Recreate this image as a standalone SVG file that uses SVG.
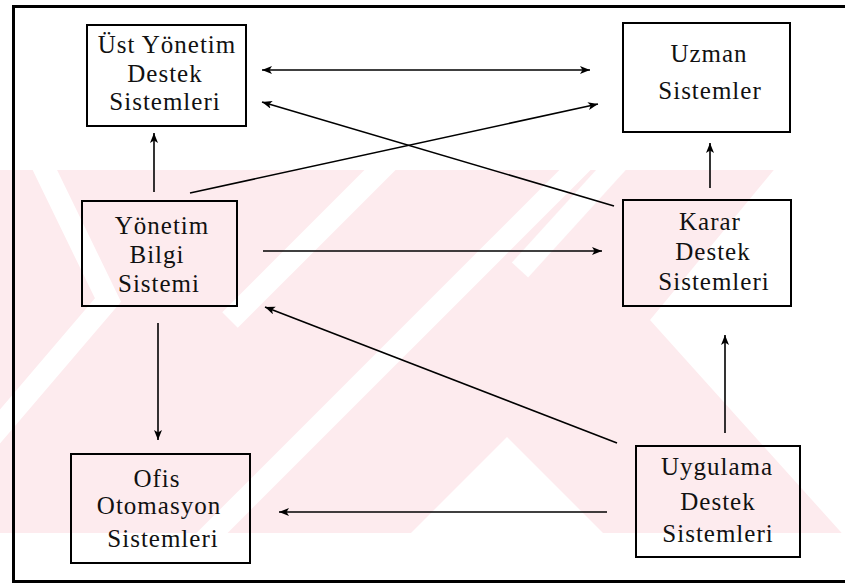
<svg xmlns="http://www.w3.org/2000/svg" width="845" height="588" viewBox="0 0 845 588">
  <defs>
    <marker id="ah" markerUnits="userSpaceOnUse" markerWidth="12" markerHeight="10" refX="10" refY="4" orient="auto-start-reverse">
      <path d="M0,0 L10,4 L0,8 L2.5,4 z" fill="#000"/>
    </marker>
    <clipPath id="band"><rect x="0" y="170" width="845" height="363"/></clipPath>
  </defs>
  <style>
    .box { fill: none; stroke: #000; stroke-width: 2; }
    .lbl { font-family: "Liberation Serif", "Times New Roman", serif; font-size: 25px; letter-spacing: 1px; fill: #111; text-anchor: middle; }
    .c { fill: none; stroke: #000; stroke-width: 1.6; }
    .wm { stroke: #fff; stroke-width: 22; fill: none; }
  </style>
  <rect width="845" height="588" fill="#fff"/>
  <g id="watermark">
    <rect x="0" y="170" width="845" height="363" fill="#fdebee"/>
    <g clip-path="url(#band)">
      <g class="wm">
        <polyline points="40,160 108,300 -20,450"/>
        <line x1="200" y1="545" x2="590" y2="155"/>
        <line x1="230" y1="320" x2="395" y2="155"/>
        <line x1="620" y1="160" x2="520" y2="270"/>
      </g>
      <polygon points="507,437 404,540 610,540" fill="#fff"/>
      <polygon points="650,320 782,160 860,160 860,540 848,540" fill="#fff"/>
    </g>
  </g>
  <g id="frame">
    <line x1="13.5" y1="5" x2="13.5" y2="583" stroke="#000" stroke-width="3"/>
    <line x1="12" y1="6.5" x2="845" y2="6.5" stroke="#000" stroke-width="3"/>
    <line x1="12" y1="581.5" x2="845" y2="581.5" stroke="#000" stroke-width="3"/>
  </g>
  <g id="ust-yonetim">
    <rect class="box" x="87" y="25" width="159" height="101"/>
    <text class="lbl" x="167" y="53">Üst Yönetim</text>
    <text class="lbl" x="165" y="82">Destek</text>
    <text class="lbl" x="165" y="110">Sistemleri</text>
  </g>
  <g id="uzman">
    <rect class="box" x="623" y="23" width="167" height="109"/>
    <text class="lbl" x="709" y="62">Uzman</text>
    <text class="lbl" x="710" y="99">Sistemler</text>
  </g>
  <g id="ybs">
    <rect class="box" x="82" y="201" width="155" height="105"/>
    <text class="lbl" x="162" y="234">Yönetim</text>
    <text class="lbl" x="157" y="263">Bilgi</text>
    <text class="lbl" x="159" y="292">Sistemi</text>
  </g>
  <g id="karar">
    <rect class="box" x="623" y="200" width="168" height="106"/>
    <text class="lbl" x="710" y="230">Karar</text>
    <text class="lbl" x="713" y="260">Destek</text>
    <text class="lbl" x="714" y="290">Sistemleri</text>
  </g>
  <g id="ofis">
    <rect class="box" x="71" y="454" width="179" height="109"/>
    <text class="lbl" x="157" y="487">Ofis</text>
    <text class="lbl" x="159" y="514">Otomasyon</text>
    <text class="lbl" x="163" y="547">Sistemleri</text>
  </g>
  <g id="uygulama">
    <rect class="box" x="636" y="446" width="164" height="111"/>
    <text class="lbl" x="717" y="475">Uygulama</text>
    <text class="lbl" x="718" y="510">Destek</text>
    <text class="lbl" x="718" y="542">Sistemleri</text>
  </g>
  <g id="connectors">
    <line class="c" x1="262" y1="70" x2="590" y2="70" marker-start="url(#ah)" marker-end="url(#ah)"/>
    <line class="c" x1="614" y1="206" x2="262" y2="102" marker-end="url(#ah)"/>
    <line class="c" x1="190" y1="193" x2="598" y2="104" marker-end="url(#ah)"/>
    <line class="c" x1="154" y1="192" x2="154" y2="133" marker-end="url(#ah)"/>
    <line class="c" x1="710" y1="188" x2="710" y2="143" marker-end="url(#ah)"/>
    <line class="c" x1="263" y1="251" x2="602" y2="251" marker-end="url(#ah)"/>
    <line class="c" x1="617" y1="443" x2="265" y2="307" marker-end="url(#ah)"/>
    <line class="c" x1="158" y1="323" x2="158" y2="440" marker-end="url(#ah)"/>
    <line class="c" x1="725" y1="433" x2="725" y2="335" marker-end="url(#ah)"/>
    <line class="c" x1="607" y1="512" x2="279" y2="512" marker-end="url(#ah)"/>
  </g>
</svg>
